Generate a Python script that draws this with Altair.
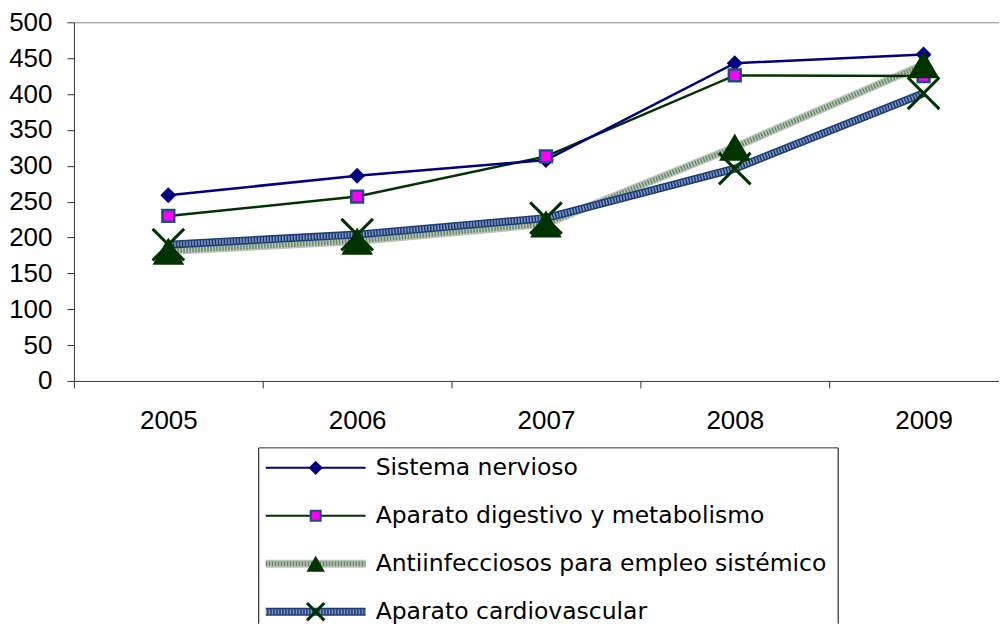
import altair as alt
import pandas as pd

# ---------------- data ----------------
years = [2005, 2006, 2007, 2008, 2009]
series_names = [
    "Sistema nervioso",
    "Aparato digestivo y metabolismo",
    "Antiinfecciosos para empleo sistémico",
    "Aparato cardiovascular",
]
sistema_nervioso = [259, 286, 308, 443, 455]
aparato_digestivo = [230, 257, 313, 426, 425]
antiinfecciosos = [181, 195, 219, 326, 441]
cardiovascular = [190, 204, 227, 296, 401]
y_ticks = [0, 50, 100, 150, 200, 250, 300, 350, 400, 450, 500]

all_values = [sistema_nervioso, aparato_digestivo, antiinfecciosos, cardiovascular]
rows = []
for name, vals in zip(series_names, all_values):
    for yr, v in zip(years, vals):
        rows.append({"series": name, "year": yr, "value": v})
df = pd.DataFrame(rows)
ldf = pd.DataFrame({"series": series_names})
one = pd.DataFrame({"k": [0]})

# ---------------- main chart ----------------
W, H = 934, 359
STEP = 189.0
x_scale = alt.Scale(domain=[2004.5, 2004.5 + W / STEP], nice=False, zero=False)
y_scale = alt.Scale(domain=[0, 500], nice=False, zero=True)

AX = "#333333"
x_axis = alt.Axis(values=years, format="d", title=None, grid=False,
                  tickOffset=-STEP / 2, labelOffset=STEP / 2,
                  tickSize=7, labelPadding=20, labelFontSize=26,
                  labelColor="black", domainColor=AX, tickColor=AX,
                  labelFont="Liberation Sans")
top_axis = alt.Axis(orient="top", labels=False, ticks=False, title=None,
                    grid=False, domainColor="#888888")
y_axis = alt.Axis(values=y_ticks, title=None, grid=False, tickSize=7,
                  labelPadding=15, labelFontSize=26, labelColor="black",
                  domainColor=AX, tickColor=AX, labelFont="Liberation Sans")

Y = alt.Y("value:Q", scale=y_scale, axis=y_axis)


def X(axis=None):
    return alt.X("year:Q", scale=x_scale, axis=axis)


def sub(name):
    return alt.Chart(df).transform_filter(alt.datum.series == name)


S, D, A, C = series_names
X_PATH = "M-1,-1L1,1M1,-1L-1,1"

layers = [
    sub(A).mark_line(color="#B9C6B9", strokeWidth=8).encode(x=X(x_axis), y=Y),
    sub(A).mark_line(color="#1E4A1E", strokeWidth=5, strokeDash=[1.5, 1.5],
                     opacity=0.5).encode(x=X(), y=Y),
    sub(C).mark_line(color="#1C3D7A", strokeWidth=8).encode(x=X(), y=Y),
    sub(C).mark_line(color="white", strokeWidth=5, strokeDash=[1.5, 1.5],
                     opacity=0.45).encode(x=X(), y=Y),
    sub(D).mark_line(color="#003300", strokeWidth=2.5).encode(x=X(), y=Y),
    sub(S).mark_line(color="#000080", strokeWidth=2.5).encode(x=X(top_axis), y=Y),
    sub(S).mark_point(shape="diamond", size=256, filled=True,
                      fill="#000080", opacity=1).encode(x=X(), y=Y),
    sub(D).mark_point(shape="square", size=140, filled=True, fill="#FF00FF",
                      stroke="#1F4E79", strokeWidth=2.5, opacity=1).encode(x=X(), y=Y),
    sub(C).mark_point(shape=X_PATH, size=1000, filled=False, stroke="#003300",
                      strokeWidth=3, opacity=1).encode(x=X(), y=Y),
    sub(A).mark_point(shape="triangle-up", size=1000, filled=True,
                      fill="#003300", opacity=1).encode(x=X(), y=Y),
]
main = alt.layer(*layers).resolve_axis(x="independent").properties(width=W, height=H)

# ---------------- legend ----------------
# legend view origin coincides with the plot origin (page x ~73)
L_W, L_H = 766, 176
BX0, BX1 = 185, 765
SX0, SX1, SXM, TX = 192, 292, 242, 302
ly = alt.Y("series:N",
           scale=alt.Scale(type="point", domain=series_names, padding=0.3333, align=0.625),
           axis=None)


def lsub(name):
    return alt.Chart(ldf).transform_filter(alt.datum.series == name)


def seg(name, **kw):
    return lsub(name).mark_rule(**kw).encode(x=alt.value(SX0), x2=alt.value(SX1), y=ly)


legend_layers = [
    alt.Chart(one).mark_rule(color="black", strokeWidth=1).encode(
        x=alt.value(BX0), y=alt.value(0), y2=alt.value(L_H)),
    alt.Chart(one).mark_rule(color="black", strokeWidth=1).encode(
        x=alt.value(BX1), y=alt.value(0), y2=alt.value(L_H)),
    alt.Chart(one).mark_rule(color="#333333", strokeWidth=1).encode(
        x=alt.value(BX0), x2=alt.value(BX1), y=alt.value(0)),
    seg(S, color="#000080", strokeWidth=2),
    seg(D, color="#003300", strokeWidth=2),
    seg(A, color="#B9C6B9", strokeWidth=8),
    seg(A, color="#1E4A1E", strokeWidth=5, strokeDash=[1.5, 1.5], opacity=0.5),
    seg(C, color="#1C3D7A", strokeWidth=8),
    seg(C, color="white", strokeWidth=5, strokeDash=[1.5, 1.5], opacity=0.45),
    lsub(S).mark_point(shape="diamond", size=200, filled=True, fill="#000080",
                       opacity=1).encode(x=alt.value(SXM), y=ly),
    lsub(D).mark_point(shape="square", size=100, filled=True, fill="#FF00FF",
                       stroke="#1F4E79", strokeWidth=2, opacity=1).encode(x=alt.value(SXM), y=ly),
    lsub(A).mark_point(shape="triangle-up", size=340, filled=True, fill="#003300",
                       opacity=1).encode(x=alt.value(SXM), y=ly),
    lsub(C).mark_point(shape=X_PATH, size=300, filled=False, stroke="#003300",
                       strokeWidth=3, opacity=1).encode(x=alt.value(SXM), y=ly),
    alt.Chart(ldf).mark_text(align="left", baseline="middle", fontSize=23.5,
                             font="DejaVu Sans", color="black").encode(
        x=alt.value(TX), y=ly, text="series:N"),
]
legend = alt.layer(*legend_layers).properties(width=L_W, height=L_H)

chart = (
    alt.vconcat(main, legend, spacing=13)
    .properties(padding={"left": 0, "top": 1, "right": -8, "bottom": 0})
    .configure(font="Liberation Sans")
    .configure_view(stroke="transparent", strokeWidth=0)
)

chart.save("out.html", embed_options={"renderer": "svg", "actions": False})
